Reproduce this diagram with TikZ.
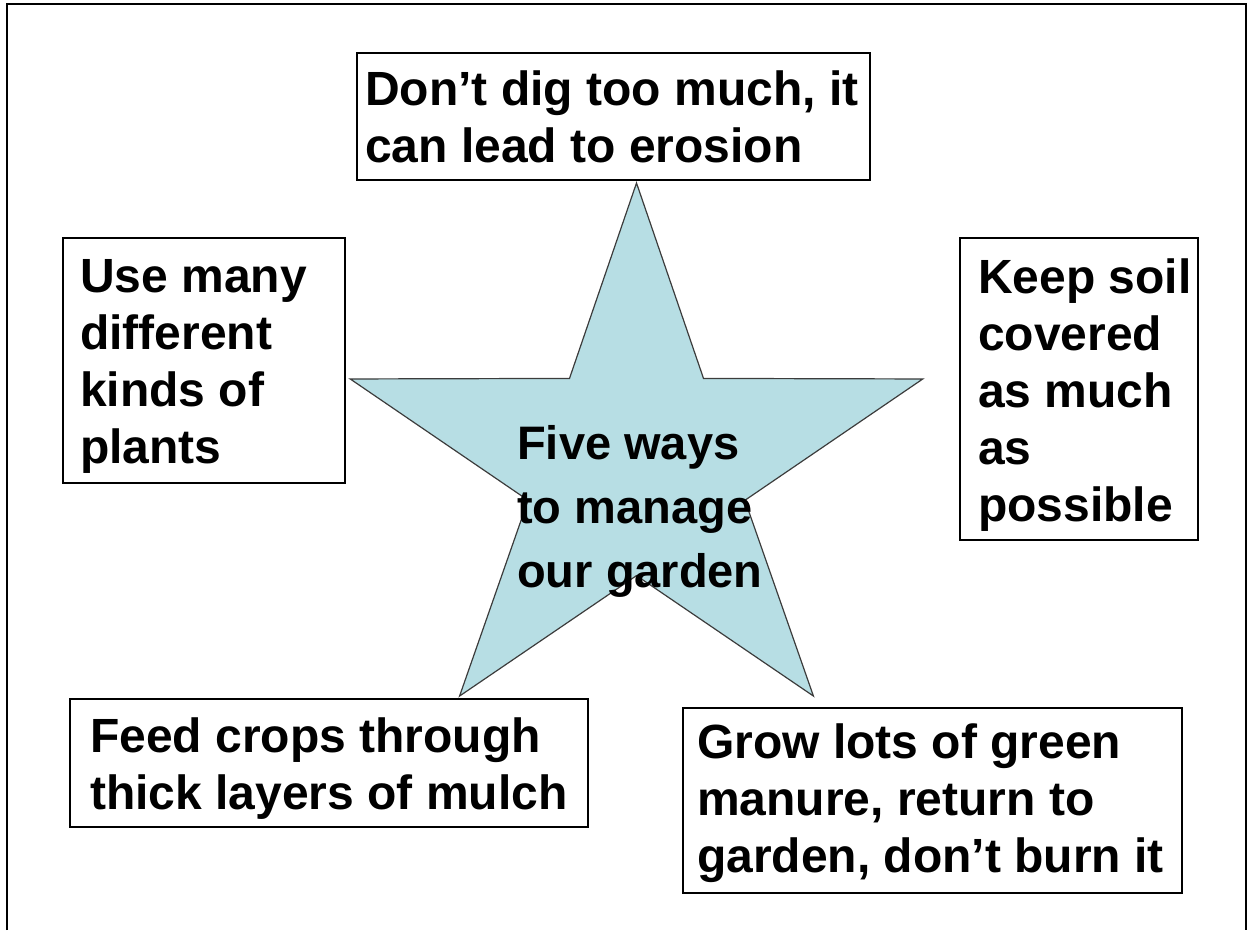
\documentclass[tikz,border=0pt]{standalone}
\usepackage{fontspec}
\setmainfont{Liberation Sans}
\definecolor{starblue}{RGB}{183,222,228}
\definecolor{stargray}{RGB}{60,60,60}
\begin{document}
\begin{tikzpicture}[x=1pt,y=-1pt,
  boxline/.style={line width=2pt,black},
  boxtext/.style={anchor=west,align=left,inner sep=0pt,font=\fontsize{48}{57}\selectfont\bfseries},
  starpath/.style={fill=starblue,draw=stargray,line width=1.2pt,line join=miter}]
\useasboundingbox (0,0) rectangle (1248,930);
\draw[line width=2pt] (7,930) -- (7,4.3) -- (1245.7,4.3) -- (1245.7,930);
\begin{scope}[shift={(636.5,466.6)}]
\draw[starpath] (270:301 and 283.6) \foreach \a in {0,72,...,288} {
  -- ({306+\a}:114 and 109) -- ({342+\a}:301 and 283.6)} -- cycle;
\end{scope}
\node[anchor=center,align=left,inner sep=0pt,font=\fontsize{47}{64}\selectfont\bfseries] (title) at (640,511) {Five ways\\to manage\\our garden};
\draw[boxline] (357,53) rectangle (870,180);
\node[boxtext] (dig) at (365,116.5) {Don't dig too much, it\\can lead to erosion};
\draw[boxline] (63,238) rectangle (345,483);
\node[boxtext] (plants) at (80,366) {Use many\\different\\kinds of\\plants};
\draw[boxline] (960,238) rectangle (1198,540);
\node[boxtext] (soil) at (978,395) {Keep soil\\covered\\as much\\as\\possible};
\draw[boxline] (70,699) rectangle (588,827);
\node[boxtext] (mulch) at (90,769) {Feed crops through\\thick layers of mulch};
\draw[boxline] (683,708) rectangle (1182,893);
\node[boxtext] (manure) at (697,803) {Grow lots of green\\manure, return to\\garden, don't burn it};
\end{tikzpicture}
\end{document}
